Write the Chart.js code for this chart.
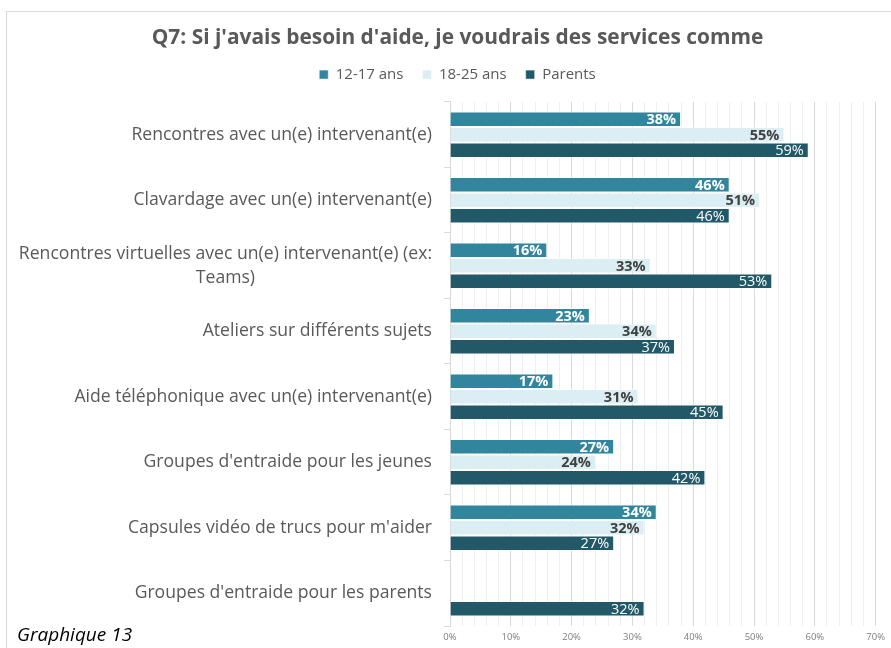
<!DOCTYPE html>
<html>
<head>
<meta charset="utf-8">
<script src="https://cdn.jsdelivr.net/npm/chart.js@4"></script>
<style>
  html, body { margin: 0; padding: 0; background: #fff; }
  #wrap { position: relative; width: 891px; height: 648px; overflow: hidden; }
  #frame { position: absolute; left: 6px; top: 11px; width: 900px; height: 700px; border: 1px solid #d9d9d9; box-sizing: border-box; }
  canvas { position: absolute; left: 0; top: 0; }
  #caption { position: absolute; left: 17px; top: 621px; font-family: "Open Sans", sans-serif; font-style: italic; font-size: 19px; color: #000; }
</style>
</head>
<body>
<div id="wrap">
  <div id="frame"></div>
  <canvas id="c" width="891" height="648"></canvas>
  <div id="caption">Graphique 13</div>
</div>
<script>
// Services souhaités, en % de répondants par groupe
const categories = [
  "Rencontres avec un(e) intervenant(e)",
  "Clavardage avec un(e) intervenant(e)",
  ["Rencontres virtuelles avec un(e) intervenant(e) (ex:", "Teams)"],
  "Ateliers sur différents sujets",
  "Aide téléphonique avec un(e) intervenant(e)",
  "Groupes d'entraide pour les jeunes",
  "Capsules vidéo de trucs pour m'aider",
  "Groupes d'entraide pour les parents"
];
const seriesNames = ["12-17 ans", "18-25 ans", "Parents"];
const jeunes12_17 = [38, 46, 16, 23, 17, 27, 34, null];
const jeunes18_25 = [55, 51, 33, 34, 31, 24, 32, null];
const parents     = [59, 46, 53, 37, 45, 42, 27, 32];
const xTicks = [0, 10, 20, 30, 40, 50, 60, 70];

const FONT = '"Open Sans", Lato, sans-serif';

// Étiquettes de valeur à l'intérieur de l'extrémité de chaque barre
const valueLabels = {
  id: 'valueLabels',
  afterDatasetsDraw(chart) {
    const ctx = chart.ctx;
    const styles = [
      { color: '#ffffff', weight: 'bold' },
      { color: '#404040', weight: 'bold' },
      { color: '#ffffff', weight: 'normal' }
    ];
    chart.data.datasets.forEach((ds, di) => {
      const meta = chart.getDatasetMeta(di);
      meta.data.forEach((bar, i) => {
        const v = ds.data[i];
        if (v === null || v === undefined) return;
        ctx.save();
        ctx.font = styles[di].weight + ' 14.5px ' + FONT;
        ctx.fillStyle = styles[di].color;
        ctx.textAlign = 'right';
        ctx.textBaseline = 'middle';
        ctx.fillText(v + '%', bar.x - 5, bar.y + 1);
        ctx.restore();
      });
    });
  }
};

// Libellés des catégories : alignés à droite, lignes multiples centrées entre elles
const categoryLabels = {
  id: 'categoryLabels',
  afterDraw(chart) {
    const ctx = chart.ctx;
    const y = chart.scales.y;
    const right = y.right - 18;
    const lh = 24;
    ctx.save();
    ctx.font = '17.6px ' + FONT;
    ctx.fillStyle = '#595959';
    ctx.textBaseline = 'middle';
    chart.data.labels.forEach((lab, i) => {
      const lines = Array.isArray(lab) ? lab : [lab];
      const cy = y.getPixelForTick(i);
      const maxW = Math.max(...lines.map((l) => ctx.measureText(l).width));
      lines.forEach((l, k) => {
        const ly = cy + (k - (lines.length - 1) / 2) * lh;
        if (lines.length === 1) {
          ctx.textAlign = 'right';
          ctx.fillText(l, right, ly);
        } else {
          ctx.textAlign = 'center';
          ctx.fillText(l, right - maxW / 2, ly);
        }
      });
    });
    ctx.restore();
  }
};

// Hauteur fixe de la légende pour placer la zone de tracé
const legendGap = {
  id: 'legendGap',
  beforeInit(chart) {
    const fit = chart.legend.fit;
    chart.legend.fit = function () {
      fit.call(this);
      this.height = 53.9;
    };
  }
};

new Chart(document.getElementById('c'), {
  type: 'bar',
  data: {
    labels: categories,
    datasets: [
      { label: seriesNames[0], data: jeunes12_17, backgroundColor: '#31859C' },
      { label: seriesNames[1], data: jeunes18_25, backgroundColor: '#DAEEF3' },
      { label: seriesNames[2], data: parents, backgroundColor: '#215968' }
    ]
  },
  options: {
    indexAxis: 'y',
    responsive: false,
    animation: false,
    layout: { padding: { left: 24, right: 0, top: 0, bottom: 0 } },
    datasets: {
      bar: {
        categoryPercentage: 0.71,
        barPercentage: 1.0,
        borderColor: 'rgba(255,255,255,0.5)',
        borderWidth: 1
      }
    },
    scales: {
      x: {
        type: 'linear',
        min: 0,
        max: 70,
        afterFit(scale) { scale.height = 22; },
        afterBuildTicks(scale) {
          const t = [];
          for (let v = 0; v <= 70; v += 2) t.push({ value: v });
          scale.ticks = t;
        },
        ticks: {
          autoSkip: false,
          minRotation: 0,
          maxRotation: 0,
          padding: 6,
          color: '#7f7f7f',
          font: { family: FONT, size: 9.5 },
          callback: (v) => (xTicks.includes(v) ? v + '%' : '')
        },
        grid: {
          drawTicks: false,
          color: (c) => (c.tick && c.tick.value % 10 === 0 ? '#d9d9d9' : '#efefef'),
          lineWidth: 1
        },
        border: { display: false }
      },
      y: {
        afterFit(scale) { scale.width = 426; },
        ticks: {
          padding: 12,
          callback: () => ''
        },
        grid: {
          drawOnChartArea: false,
          drawTicks: true,
          tickLength: 6,
          color: '#d9d9d9'
        },
        border: { display: true, color: '#d9d9d9' }
      }
    },
    plugins: {
      title: {
        display: true,
        text: "Q7: Si j'avais besoin d'aide, je voudrais des services comme",
        color: '#595959',
        font: { family: FONT, size: 20.9, weight: 'bold' },
        padding: { top: 26, bottom: -3 }
      },
      legend: {
        display: true,
        position: 'top',
        labels: {
          boxWidth: 9,
          boxHeight: 9,
          padding: 19,
          color: '#595959',
          font: { family: FONT, size: 15 }
        }
      },
      tooltip: { enabled: false }
    }
  },
  plugins: [valueLabels, categoryLabels, legendGap]
});
</script>
</body>
</html>
